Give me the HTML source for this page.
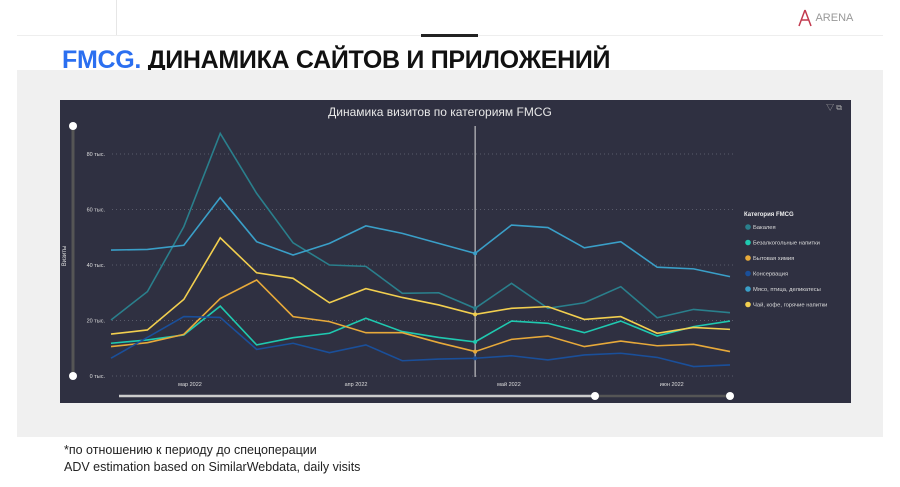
<!DOCTYPE html>
<html><head><meta charset="utf-8"><style>
body{margin:0;width:900px;height:487px;background:#fff;font-family:"Liberation Sans","Noto Sans CJK SC",sans-serif;position:relative;overflow:hidden}
.abs{position:absolute}
</style></head><body>
<div class="abs" style="left:116px;top:0;width:1px;height:36px;background:#e6e6e6"></div>
<div class="abs" style="left:17px;top:35px;width:866px;height:1px;background:#eee"></div>
<div class="abs" style="left:421px;top:34px;width:57px;height:3px;background:#222"></div>
<div class="abs" style="left:797px;top:8px;font-size:11px;color:#999">
<svg width="16" height="20" style="vertical-align:middle"><path d="M8 2 L2 18 M8 2 L14 18 M4 12 L12 12" stroke="#c23a4e" stroke-width="1.5" fill="none"/></svg> ARENA</div>
<div class="abs" style="left:62px;top:46px;font-size:25px;font-weight:bold;color:#111;letter-spacing:-0.3px"><span style="color:#2b6ff0">FMCG.</span> ДИНАМИКА САЙТОВ И ПРИЛОЖЕНИЙ</div>
<div class="abs" style="left:17px;top:70px;width:866px;height:367px;background:#f0f0f0"></div>
<svg class="abs" id="chart" style="left:60px;top:100px" width="791" height="303" viewBox="60 100 791 303"></svg>
<div class="abs" style="left:64px;top:443px;font-size:12.5px;color:#222">*по отношению к периоду до спецоперации</div>
<div class="abs" style="left:64px;top:460px;font-size:12.5px;color:#222">ADV estimation based on SimilarWebdata, daily visits</div>
<script>
const categories=["Бакалея","Безалкогольные напитки","Бытовая химия","Консервация","Мясо, птица, деликатесы","Чай, кофе, горячие напитки"];
const seriesBakaleya=[20.2,30.4,53.8,87.4,65.8,48,40,39.5,29.8,30,24.4,33.4,24.4,26.4,32.2,21,24,22.8];
const seriesBezalk=[11.8,13,14.8,25.2,11.2,13.8,15.4,20.8,16,13.9,12.3,19.8,19,15.6,19.8,14.4,17.8,19.8];
const seriesBytovaya=[10.6,12,15,27.9,34.6,21.4,19.6,15.6,15.6,12,8.8,13.2,14.4,10.6,12.6,10.9,11.4,8.8];
const seriesKonserv=[6.4,13.9,21.4,21.1,9.6,11.8,8.4,11.2,5.5,6.1,6.4,7.3,5.8,7.6,8.2,6.7,3.4,4];
const seriesMyaso=[45.4,45.6,47.1,64.3,48.4,43.6,47.8,54.1,51.4,47.8,44.2,54.4,53.5,46.2,48.4,39.2,38.6,35.8];
const seriesChai=[15.1,16.6,27.6,49.8,37.2,35.2,26.4,31.5,28.3,25.6,22.2,24.4,25,20.4,21.4,15.4,17.5,16.8];
const yTicks=[0,20,40,60,80];
const yTickLabels=["0 тыс.","20 тыс.","40 тыс.","60 тыс.","80 тыс."];
const monthLabels=["мар 2022","апр 2022","май 2022","июн 2022"];
const monthIdx=[2.17,6.73,10.93,15.4];
const highlightIdx=10;
const colors=["#2a7f8c","#1fc9b0","#e7a93a","#1a4f9a","#3a9fc8","#f2cf4f"];
const allSeries=[seriesBakaleya,seriesBezalk,seriesBytovaya,seriesKonserv,seriesMyaso,seriesChai];
const NS="http://www.w3.org/2000/svg";
const svg=document.getElementById('chart');
const x=i=>111+i*(730-111)/(seriesBakaleya.length-1);
const y=v=>376-v*(376-154)/80;
function el(t,a,txt){const e=document.createElementNS(NS,t);for(const k in a)e.setAttribute(k,a[k]);if(txt!=null)e.textContent=txt;svg.appendChild(e);return e;}
let e;
e=el('rect',{x:60,y:100,width:791,height:303,fill:"#2f3041"});


e=el('text',{x:440,y:116,fill:"#e8e8e8","font-size":12,"text-anchor":"middle"},"Динамика визитов по категориям FMCG");


e=el('text',{x:842,y:110,fill:"#aaa","font-size":8,"text-anchor":"end"},"▽ ⧉");


yTicks.forEach((t,i)=>{
 e=el('line',{x1:112,x2:735,y1:y(t),y2:y(t),stroke:"#6a6b7a","stroke-dasharray":"1 3","stroke-width":0.8});
 
 
 e=el('text',{x:105,y:y(t)+2,fill:"#ddd","font-size":5.5,"text-anchor":"end"},yTickLabels[i]);
 
 
});
monthLabels.forEach((m,i)=>{
 e=el('text',{x:x(monthIdx[i]),y:386,fill:"#ddd","font-size":5.5,"text-anchor":"middle"},m);
 
 
});
e=el('text',{x:0,y:0,fill:"#ddd","font-size":6,"text-anchor":"middle",transform:"translate(66 256) rotate(-90)"},"Визиты");


e=el('line',{x1:73,x2:73,y1:126,y2:376,stroke:"#555",'stroke-width':3});


[126,376].forEach(cy=>{e=el('circle',{cx:73,cy:cy,r:4,fill:"#fff"});

});
e=el('line',{x1:x(highlightIdx),x2:x(highlightIdx),y1:126,y2:377,stroke:"#ddd",'stroke-width':1});


allSeries.forEach((s,k)=>{
 e=el('polyline',{points:s.map((v,i)=>x(i)+","+y(v)).join(" "),fill:"none",stroke:colors[k],'stroke-width':1.6});
 
 
 e=el('circle',{cx:x(highlightIdx),cy:y(s[highlightIdx]),r:2,fill:colors[k]});
 
 
});
e=el('line',{x1:119,x2:595,y1:396,y2:396,stroke:"#ccc",'stroke-width':2.5});


e=el('line',{x1:595,x2:730,y1:396,y2:396,stroke:"#555",'stroke-width':2.5});


[595,730].forEach(cx=>{e=el('circle',{cx:cx,cy:396,r:4,fill:"#fff"});

});
e=el('text',{x:744,y:216,fill:"#eee","font-size":6,"font-weight":"bold"},"Категория FMCG");


categories.forEach((c,k)=>{
 const ly=227+k*15.5;
 e=el('circle',{cx:748,cy:ly,r:2.8,fill:colors[k]});
 
 
 e=el('text',{x:753,y:ly+2,fill:"#ddd","font-size":5.8},c);
 
 
});
</script>
</body></html>
